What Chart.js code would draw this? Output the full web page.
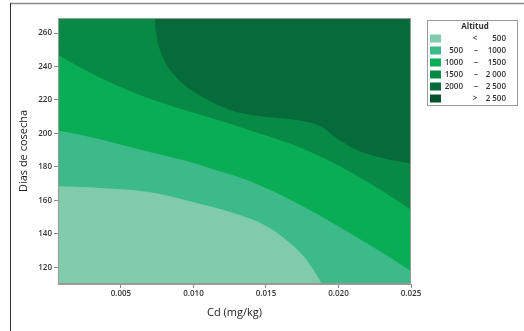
<!DOCTYPE html>
<html>
<head>
<meta charset="utf-8">
<script src="https://cdn.jsdelivr.net/npm/chart.js@4.4.0/dist/chart.umd.min.js"></script>
<style>
  body { margin: 0; background: #fff; }
  #wrap { width: 524px; height: 331px; }
</style>
</head>
<body>
<div id="wrap"><canvas id="contour" width="524" height="331"></canvas></div>
<script>
// contour boundaries (x = Cd mg/kg, y = dias de cosecha)
const b500X = [0.00066, 0.00363, 0.00706, 0.01003, 0.01277, 0.01506, 0.01666, 0.0178, 0.01849, 0.01894, 0.025];
const b500Y = [168.4, 167.4, 164.8, 158.8, 152.4, 144.5, 134.5, 124.5, 115.6, 110, 110];

const b1000X = [0.00066, 0.00249, 0.00477, 0.00706, 0.00934, 0.01163, 0.01391, 0.0162, 0.01849, 0.02077, 0.02306, 0.025];
const b1000Y = [201.8, 198.6, 193.9, 188.7, 183.9, 177.9, 171.4, 162.4, 152.0, 140.5, 128.5, 117.6];

const b1500X = [0.00066, 0.00249, 0.00477, 0.00706, 0.00934, 0.01163, 0.01391, 0.0162, 0.01849, 0.02077, 0.02306, 0.025];
const b1500Y = [247.1, 238.1, 228.5, 220.6, 214.2, 208.2, 201.8, 195.3, 187.3, 177.3, 165.4, 154.4];

const b2000X = [0.00066, 0.00733, 0.0074, 0.00756, 0.00797, 0.00866, 0.0098, 0.01117, 0.01277, 0.01506, 0.01734, 0.01871, 0.01986, 0.02123, 0.02306, 0.025];
const b2000Y = [270, 270, 262, 254, 244.1, 235.1, 226.1, 219.2, 213.2, 209.8, 207.8, 204.6, 197.3, 190.3, 185.3, 181.9];

const xTicks = [0.005, 0.010, 0.015, 0.020, 0.025];
const yTicks = [120, 140, 160, 180, 200, 220, 240, 260];

const legendFrom = ['<', '500', '1000', '1500', '2000', '>'];
const legendTo = ['500', '1000', '1500', '2 000', '2 500', '2 500'];
const legendColors = ['#7fcbab', '#3dba89', '#08ad56', '#078a45', '#066b3b', '#04512d'];

const toPts = (xs, ys) => xs.map((x, i) => ({ x: x, y: ys[i] }));

function band(xs, ys, color, order) {
  return {
    data: toPts(xs, ys),
    backgroundColor: color,
    borderWidth: 0,
    pointRadius: 0,
    cubicInterpolationMode: 'monotone',
    fill: 'end',
    order: order
  };
}

const framePlugin = {
  id: 'frame',
  afterDraw(chart) {
    const { ctx, chartArea: a } = chart;
    ctx.save();
    ctx.strokeStyle = '#9a9a9a';
    ctx.lineWidth = 1;
    ctx.strokeRect(a.left + 0.5, a.top + 0.5, a.right - a.left - 1, a.bottom - a.top - 1);
    // figure border
    ctx.strokeStyle = '#8a8a8a';
    ctx.lineWidth = 1.5;
    ctx.beginPath(); ctx.moveTo(10, 3.5); ctx.lineTo(524, 3.5); ctx.stroke();
    ctx.strokeStyle = '#333';
    ctx.lineWidth = 1;
    ctx.beginPath(); ctx.moveTo(10.5, 3); ctx.lineTo(10.5, 331); ctx.stroke();

    // legend
    ctx.strokeStyle = '#9a9a9a';
    ctx.strokeRect(427.5, 20.5, 90, 85);
    ctx.fillStyle = '#333';
    ctx.font = 'bold 8px "Open Sans"';
    ctx.textAlign = 'center';
    ctx.textBaseline = 'middle';
    ctx.fillText('Altitud', 475, 26.5);
    ctx.font = '600 8px "Open Sans"';
    legendColors.forEach((c, i) => {
      const y = 38.5 + i * 12;
      ctx.fillStyle = c;
      ctx.fillRect(430, y - 4, 11, 8);
      ctx.fillStyle = '#333';
      const from = legendFrom[i];
      if (from === '<' || from === '>') {
        ctx.textAlign = 'center';
        ctx.fillText(from, 475, y);
      } else {
        ctx.textAlign = 'right';
        ctx.fillText(from, 463, y);
        ctx.textAlign = 'center';
        ctx.fillText('–', 476, y);
      }
      ctx.textAlign = 'right';
      ctx.fillText(legendTo[i], 506, y);
    });
    ctx.restore();
  }
};

Chart.defaults.font.family = '"Open Sans", "DejaVu Sans", sans-serif';
Chart.defaults.color = '#333';

new Chart(document.getElementById('contour').getContext('2d'), {
  type: 'line',
  data: {
    datasets: [
      band([0.00066, 0.025], [110, 110], legendColors[0], 10),
      band(b500X, b500Y, legendColors[1], 4),
      band(b1000X, b1000Y, legendColors[2], 3),
      band(b1500X, b1500Y, legendColors[3], 2),
      band(b2000X, b2000Y, legendColors[4], 1)
    ]
  },
  options: {
    responsive: false,
    animation: false,
    layout: { padding: { left: 0, top: 18, right: 113, bottom: 0 } },
    plugins: {
      legend: { display: false },
      tooltip: { enabled: false }
    },
    scales: {
      x: {
        type: 'linear',
        min: 0.00066,
        max: 0.025,
        afterFit(s) { s.height = 47; },
        afterBuildTicks(s) { s.ticks = xTicks.map(v => ({ value: v })); },
        ticks: {
          padding: 1,
          font: { size: 8, weight: '600' },
          color: '#333',
          callback: v => v.toFixed(3)
        },
        grid: { drawOnChartArea: false, tickLength: 4, tickColor: '#888' },
        border: { color: '#9a9a9a' },
        title: {
          display: true,
          text: 'Cd (mg/kg)',
          font: { size: 11 },
          color: '#222',
          padding: { top: 12, bottom: 12 }
        }
      },
      y: {
        min: 110,
        max: 269,
        afterFit(s) { s.width = 58; },
        afterBuildTicks(s) { s.ticks = yTicks.map(v => ({ value: v })); },
        ticks: { padding: 2, font: { size: 8, weight: '600' }, color: '#333' },
        grid: { drawOnChartArea: false, tickLength: 4, tickColor: '#888' },
        border: { color: '#9a9a9a' },
        title: {
          display: true,
          text: 'Dias de cosecha',
          font: { size: 11 },
          color: '#222',
          padding: { top: 17, bottom: 17 }
        }
      }
    }
  },
  plugins: [framePlugin]
});
</script>
</body>
</html>
